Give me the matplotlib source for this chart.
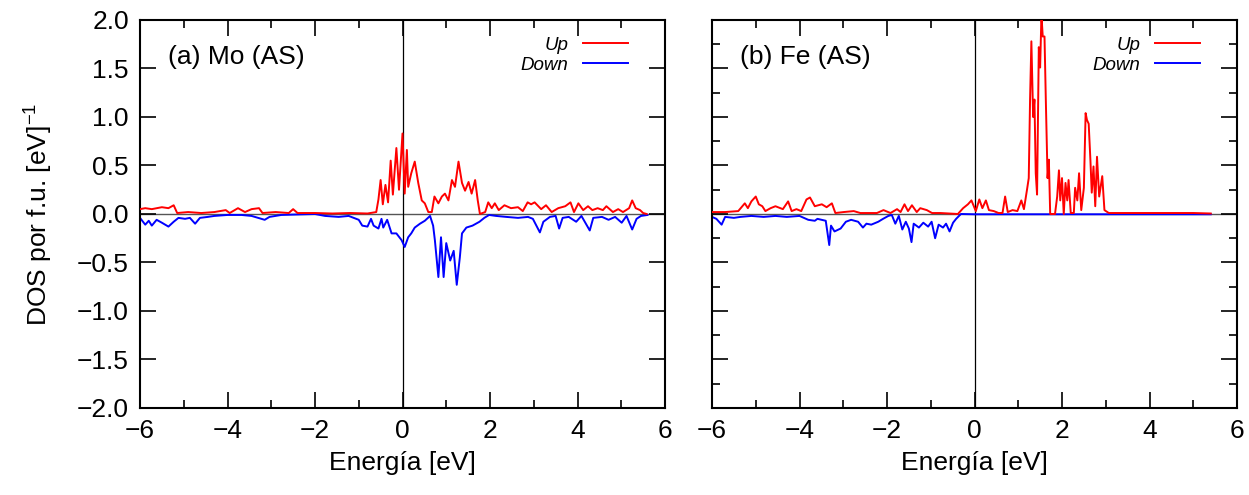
import matplotlib
matplotlib.use("Agg")
import matplotlib.pyplot as plt
from matplotlib.ticker import MultipleLocator

plt.rcParams['font.family'] = ['Liberation Sans', 'DejaVu Sans']
plt.rcParams['mathtext.fontset'] = 'custom'
plt.rcParams['mathtext.rm'] = 'Liberation Sans'
plt.rcParams['mathtext.default'] = 'regular'

# --- (a) Mo (AS) ---
mo_up_e = [-6.0, -5.88, -5.73, -5.5, -5.35, -5.23, -5.15, -4.9, -4.6, -4.3, -4.04, -3.95,
           -3.76, -3.6, -3.45, -3.28, -3.2, -2.9, -2.6, -2.5, -2.4, -2.0, -1.6, -1.2, -0.8,
           -0.6, -0.55, -0.5, -0.45, -0.39, -0.33, -0.27, -0.22, -0.14, -0.08, 0.0, 0.05,
           0.1, 0.13, 0.2, 0.28, 0.36, 0.44, 0.51, 0.59, 0.67, 0.73, 0.82, 0.90, 0.97,
           1.05, 1.13, 1.2, 1.28, 1.36, 1.43, 1.51, 1.58, 1.66, 1.72, 1.77, 1.89, 1.96,
           2.04, 2.11, 2.2, 2.33, 2.48, 2.64, 2.75, 2.86, 2.94, 3.02, 3.17, 3.28, 3.41,
           3.56, 3.72, 3.84, 3.92, 4.02, 4.13, 4.24, 4.34, 4.46, 4.58, 4.66, 4.81, 4.93,
           5.04, 5.18, 5.25, 5.33, 5.43, 5.5, 5.58]
mo_up = [0.05, 0.06, 0.05, 0.07, 0.06, 0.09, 0.01, 0.02, 0.01, 0.02, 0.04, 0.01,
         0.06, 0.02, 0.05, 0.06, 0.01, 0.02, 0.01, 0.05, 0.01, 0.01, 0.005, 0.01, 0.005,
         0.02, 0.15, 0.35, 0.1, 0.3, 0.12, 0.55, 0.2, 0.68, 0.25, 0.83, 0.21, 0.66, 0.28,
         0.42, 0.54, 0.32, 0.14, 0.11, 0.02, 0.02, 0.18, 0.11, 0.18, 0.21, 0.14, 0.35,
         0.28, 0.54, 0.32, 0.24, 0.33, 0.21, 0.35, 0.14, 0.0, 0.02, 0.12, 0.06, 0.11,
         0.04, 0.09, 0.06, 0.07, 0.03, 0.12, 0.1, 0.12, 0.05, 0.09, 0.02, 0.06, 0.08,
         0.12, 0.02, 0.11, 0.04, 0.08, 0.04, 0.06, 0.04, 0.08, 0.02, 0.05, 0.02, 0.06,
         0.14, 0.06, 0.04, 0.01, 0.0]

mo_dn_e = [-6.0, -5.88, -5.8, -5.73, -5.62, -5.5, -5.35, -5.23, -5.12, -4.97, -4.86,
           -4.74, -4.63, -4.45, -4.3, -4.0, -3.68, -3.45, -3.3, -3.15, -3.04, -2.77, -2.4,
           -2.0, -1.77, -1.46, -1.23, -1.0, -0.92, -0.8, -0.72, -0.66, -0.55, -0.48, -0.44,
           -0.35, -0.25, -0.14, -0.02, 0.05, 0.13, 0.2, 0.28, 0.4, 0.51, 0.63, 0.7, 0.74,
           0.82, 0.88, 0.94, 1.0, 1.09, 1.17, 1.24, 1.31, 1.36, 1.46, 1.6, 1.76, 1.87,
           1.98, 2.14, 2.37, 2.64, 2.87, 2.98, 3.14, 3.22, 3.37, 3.5, 3.58, 3.66, 3.8,
           3.97, 4.09, 4.28, 4.36, 4.56, 4.71, 4.86, 5.01, 5.12, 5.25, 5.35, 5.45, 5.6]
mo_dn = [-0.04, -0.11, -0.07, -0.12, -0.06, -0.09, -0.13, -0.08, -0.04, -0.05, -0.04,
         -0.1, -0.04, -0.03, -0.02, -0.01, -0.01, -0.02, -0.04, -0.06, -0.03, -0.01,
         -0.005, 0.0, -0.02, -0.03, -0.02, -0.06, -0.12, -0.13, -0.05, -0.12, -0.15,
         -0.05, -0.14, -0.06, -0.2, -0.2, -0.27, -0.34, -0.24, -0.2, -0.14, -0.1, -0.07,
         -0.02, -0.12, -0.27, -0.65, -0.24, -0.65, -0.3, -0.48, -0.38, -0.73, -0.45,
         -0.2, -0.14, -0.12, -0.08, -0.04, -0.01, -0.02, -0.03, -0.04, -0.03, -0.05,
         -0.19, -0.08, -0.03, -0.02, -0.15, -0.04, -0.03, -0.08, -0.02, -0.17, -0.04,
         -0.03, -0.06, -0.03, -0.09, -0.02, -0.16, -0.05, -0.02, -0.01]

# --- (b) Fe (AS) ---
fe_up_e = [-6.0, -5.7, -5.4, -5.25, -5.18, -5.1, -5.0, -4.93, -4.85, -4.78, -4.66, -4.55,
           -4.38, -4.26, -4.18, -4.07, -3.96, -3.84, -3.76, -3.65, -3.49, -3.38, -3.26,
           -3.18, -2.99, -2.76, -2.61, -2.38, -2.23, -2.08, -1.92, -1.77, -1.69, -1.6,
           -1.52, -1.43, -1.32, -1.24, -1.09, -0.97, -0.78, -0.38, -0.26, -0.15, -0.07,
           0.03, 0.11, 0.18, 0.26, 0.33, 0.44, 0.55, 0.64, 0.7, 0.76, 0.87, 0.98, 1.07,
           1.13, 1.2, 1.24, 1.27, 1.3, 1.34, 1.37, 1.4, 1.43, 1.47, 1.5, 1.53, 1.56, 1.6,
           1.63, 1.67, 1.7, 1.73, 1.84, 1.89, 1.93, 1.96, 2.0, 2.04, 2.08, 2.12, 2.15,
           2.2, 2.27, 2.3, 2.35, 2.39, 2.44, 2.5, 2.54, 2.57, 2.61, 2.65, 2.68, 2.72,
           2.76, 2.8, 2.85, 2.92, 2.97, 3.07, 3.5, 4.0, 4.5, 5.0, 5.4]
fe_up = [0.02, 0.02, 0.03, 0.11, 0.06, 0.13, 0.18, 0.1, 0.08, 0.03, 0.06, 0.08,
         0.05, 0.13, 0.03, 0.05, 0.03, 0.15, 0.17, 0.08, 0.1, 0.07, 0.11,
         0.01, 0.02, 0.03, 0.01, 0.01, 0.01, 0.04, 0.01, 0.05, 0.02, 0.1,
         0.03, 0.09, 0.02, 0.06, 0.04, 0.01, 0.01, 0.0, 0.06, 0.1, 0.14,
         0.03, 0.15, 0.06, 0.14, 0.04, 0.03, 0.01, 0.01, 0.18, 0.02, 0.04, 0.03, 0.14,
         0.05, 0.25, 0.37, 1.18, 1.78, 1.0, 1.18, 0.42, 0.2, 1.72, 1.51, 2.05, 1.83, 1.83,
         1.18, 0.37, 0.56, 0.0, 0.0, 0.18, 0.45, 0.14, 0.37, 0.0, 0.32, 0.14, 0.35,
         0.01, 0.01, 0.27, 0.14, 0.42, 0.04, 0.27, 1.04, 0.97, 0.93, 0.55, 0.22, 0.49,
         0.08, 0.59, 0.18, 0.39, 0.04, 0.01, 0.01, 0.01, 0.01, 0.01, 0.005]

fe_dn_e = [-6.0, -5.9, -5.78, -5.7, -5.5, -5.35, -5.1, -4.82, -4.55, -4.29, -4.0, -3.8,
           -3.65, -3.59, -3.4, -3.32, -3.28, -3.2, -3.06, -2.94, -2.82, -2.66, -2.55,
           -2.47, -2.36, -2.2, -2.09, -1.97, -1.89, -1.81, -1.73, -1.65, -1.57, -1.5,
           -1.44, -1.39, -1.27, -1.17, -1.06, -0.98, -0.9, -0.82, -0.72, -0.65, -0.57,
           -0.49, -0.42, -0.31, 0.0, 1.0, 2.0, 3.0, 4.0, 5.0, 5.4]
fe_dn = [-0.03, -0.05, -0.11, -0.03, -0.04, -0.03, -0.02, -0.03, -0.02, -0.03, -0.02,
         -0.06, -0.07, -0.05, -0.07, -0.32, -0.12, -0.18, -0.15, -0.08, -0.06, -0.08,
         -0.14, -0.1, -0.11, -0.08, -0.05, -0.02, -0.01, -0.1, -0.02, -0.16, -0.08,
         -0.15, -0.29, -0.1, -0.14, -0.09, -0.13, -0.08, -0.25, -0.11, -0.14, -0.1,
         -0.18, -0.09, -0.05, 0.0, -0.003, -0.003, -0.003, -0.003, -0.003, -0.003, -0.003]

panels = [
    ('(a) Mo (AS)', mo_up_e, mo_up, mo_dn_e, mo_dn, False),
    ('(b) Fe (AS)', fe_up_e, fe_up, fe_dn_e, fe_dn, True),
]

fig = plt.figure(figsize=(12.49, 4.95), dpi=100)
lefts = [140 / 1249, 712 / 1249]
for i, (title, ue, u, de, d, minor_y) in enumerate(panels):
    ax = fig.add_axes([lefts[i], 0.1758, 525 / 1249, 0.7838])
    ax.axhline(0, color='#555555', lw=1.0, zorder=1)
    ax.axvline(0, color='black', lw=0.9, zorder=1)
    ax.plot(ue, u, color='#ff0000', lw=1.4, label='Up', zorder=3)
    ax.plot(de, d, color='#0000ff', lw=1.4, label='Down', zorder=2)
    ax.set_xlim(-6, 6)
    ax.set_ylim(-2, 2)
    ax.xaxis.set_major_locator(MultipleLocator(2))
    ax.xaxis.set_minor_locator(MultipleLocator(1))
    ax.yaxis.set_major_locator(MultipleLocator(0.5))
    if minor_y:
        ax.yaxis.set_minor_locator(MultipleLocator(0.25))
    ax.tick_params(which='both', direction='in', top=True, right=True, width=1.2,
                   labelsize=19, pad=8)
    ax.tick_params(which='major', length=11.5)
    ax.tick_params(which='minor', length=5.8)
    ax.yaxis.set_major_formatter(plt.FuncFormatter(lambda v, p: f'{v:.1f}'.replace('-', '\u2212')))
    for s in ax.spines.values():
        s.set_linewidth(1.5)
    if i == 0:
        ax.set_ylabel('DOS por f.u. [eV]$^{\u22121}$', fontsize=19, labelpad=16)
    else:
        ax.tick_params(axis='y', labelleft=False)
    ax.set_xlabel('Energía [eV]', fontsize=19, labelpad=6)
    ax.text(0.053, 0.905, title, transform=ax.transAxes, fontsize=19, va='center', ha='left')
    ax.legend(loc='upper right', bbox_to_anchor=(0.962, 1.0), frameon=False,
              markerfirst=False, handlelength=2.4, handletextpad=0.8, labelspacing=0.15,
              prop={'style': 'italic', 'size': 13.5})

fig.savefig('out.png', dpi=100)
